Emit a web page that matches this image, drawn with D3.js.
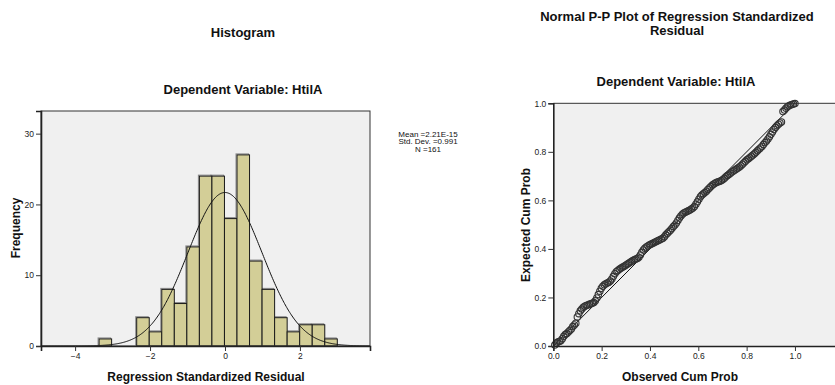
<!DOCTYPE html>
<html>
<head>
<meta charset="utf-8">
<script src="https://cdn.jsdelivr.net/npm/d3@7"></script>
<style>
  body { margin: 0; background: #fff; }
  svg { font-family: "Liberation Sans", Arial, sans-serif; }
  .tick text { font-size: 8.5px; fill: #222; }
  .tick line { stroke: #333; }
  .title { font-size: 13px; font-weight: bold; fill: #111; }
  .axis-title { font-size: 12px; font-weight: bold; fill: #111; }
  .stats { font-size: 8px; fill: #111; }
</style>
</head>
<body>
<div id="chart"></div>
<script>
// histogram data
const binStart = -3.36;
const binWidth = 0.3346;
const binCounts = [1, 0, 0, 4, 2, 8, 6, 14, 24, 24, 18, 27, 12, 8, 4, 2, 3, 3, 1];
const histTicksX = [-4, -2, 0, 2];
const histTicksY = [0, 10, 20, 30];
const statMean = 2.21e-15;
const statSd = 0.991;
const statN = 161;
const statLines = ["Mean =2.21E-15", "Std. Dev. =0.991", "N =161"];

// P-P plot: expected cum prob for each residual, in rank order
const expectedCum = [
  0.004, 0.012, 0.016, 0.019, 0.022, 0.030, 0.040, 0.047, 0.052, 0.058,
  0.064, 0.070, 0.080, 0.087, 0.094, 0.120, 0.133, 0.145, 0.152, 0.160,
  0.164, 0.167, 0.169, 0.172, 0.174, 0.176, 0.179, 0.186, 0.198, 0.212,
  0.226, 0.238, 0.246, 0.252, 0.256, 0.260, 0.263, 0.268, 0.276, 0.287,
  0.298, 0.306, 0.311, 0.316, 0.320, 0.324, 0.328, 0.332, 0.336, 0.340,
  0.344, 0.348, 0.352, 0.355, 0.358, 0.361, 0.366, 0.375, 0.386, 0.396,
  0.403, 0.408, 0.412, 0.416, 0.419, 0.422, 0.425, 0.429, 0.432, 0.435,
  0.438, 0.441, 0.444, 0.450, 0.458, 0.465, 0.471, 0.477, 0.484, 0.492,
  0.499, 0.507, 0.517, 0.527, 0.536, 0.543, 0.548, 0.551, 0.554, 0.557,
  0.560, 0.564, 0.569, 0.575, 0.584, 0.594, 0.605, 0.615, 0.622, 0.627,
  0.632, 0.638, 0.645, 0.651, 0.657, 0.663, 0.668, 0.672, 0.675, 0.677,
  0.679, 0.682, 0.686, 0.691, 0.697, 0.702, 0.707, 0.712, 0.717, 0.721,
  0.725, 0.729, 0.733, 0.738, 0.743, 0.749, 0.755, 0.761, 0.767, 0.772,
  0.777, 0.782, 0.787, 0.792, 0.798, 0.804, 0.811, 0.816, 0.822, 0.830,
  0.838, 0.845, 0.853, 0.862, 0.872, 0.882, 0.892, 0.900, 0.908, 0.914,
  0.919, 0.923, 0.966, 0.972, 0.980, 0.986, 0.990, 0.993, 0.995, 0.997,
  0.999
];
const ppTicks = [0, 0.2, 0.4, 0.6, 0.8, 1.0];

const W = 835, H = 385;
const svg = d3.select("#chart").append("svg").attr("width", W).attr("height", H);

// ---------- Histogram ----------
const hx = d3.scaleLinear().domain([-4.91, 3.87]).range([41, 370]);
const hy = d3.scaleLinear().domain([0, 33.2]).range([346, 111]);

svg.append("rect")
  .attr("x", hx.range()[0]).attr("y", hy.range()[1])
  .attr("width", hx.range()[1] - hx.range()[0])
  .attr("height", hy.range()[0] - hy.range()[1])
  .attr("fill", "#f0f0f0");

const bins = binCounts.map((c, i) => ({ x0: binStart + i * binWidth, x1: binStart + (i + 1) * binWidth, n: c }))
  .filter(d => d.n > 0);

// grey shadow behind the bars
svg.append("g").selectAll("rect").data(bins).enter().append("rect")
  .attr("x", d => hx(d.x0) - 1)
  .attr("y", d => hy(d.n) - 1)
  .attr("width", d => hx(d.x1) - hx(d.x0))
  .attr("height", d => hy(0) - hy(d.n))
  .attr("fill", "none")
  .attr("stroke", "#8a8a8a")
  .attr("stroke-width", 1);

svg.append("g").selectAll("rect").data(bins).enter().append("rect")
  .attr("x", d => hx(d.x0))
  .attr("y", d => hy(d.n))
  .attr("width", d => hx(d.x1) - hx(d.x0))
  .attr("height", d => hy(0) - hy(d.n))
  .attr("fill", "#d3ce97")
  .attr("stroke", "#1a1a1a")
  .attr("stroke-width", 1);

// fitted normal curve
const curveX = d3.range(hx.domain()[0], hx.domain()[1] + 0.001, 0.02);
const normPdf = x => Math.exp(-0.5 * ((x - statMean) / statSd) ** 2) / (statSd * Math.sqrt(2 * Math.PI));
svg.append("path")
  .datum(curveX)
  .attr("fill", "none")
  .attr("stroke", "#111")
  .attr("stroke-width", 1)
  .attr("d", d3.line().x(d => hx(d)).y(d => hy(statN * binWidth * normPdf(d))));

// frame
svg.append("rect")
  .attr("x", 41).attr("y", 111).attr("width", 329).attr("height", 235)
  .attr("fill", "none").attr("stroke", "#333").attr("stroke-width", 1);

const hAxisY = svg.append("g").attr("transform", "translate(41,0)")
  .call(d3.axisLeft(hy).tickValues(histTicksY).tickSize(5).tickPadding(2));
const hAxisX = svg.append("g").attr("transform", "translate(0,346)")
  .call(d3.axisBottom(hx).tickValues(histTicksX).tickSize(5).tickPadding(2));
[hAxisY, hAxisX].forEach(a => a.select(".domain").attr("stroke", "#222").attr("stroke-width", 1.6));

svg.append("text").attr("class", "title").attr("x", 243).attr("y", 37).attr("text-anchor", "middle").text("Histogram");
svg.append("text").attr("class", "title").attr("x", 243).attr("y", 94).attr("text-anchor", "middle").text("Dependent Variable: HtilA");
svg.append("text").attr("class", "axis-title").attr("x", 206).attr("y", 381).attr("text-anchor", "middle").text("Regression Standardized Residual");
svg.append("text").attr("class", "axis-title").attr("text-anchor", "middle")
  .attr("transform", "translate(20,228) rotate(-90)").text("Frequency");

svg.append("g").selectAll("text").data(statLines).enter().append("text")
  .attr("class", "stats")
  .attr("x", 428).attr("y", (d, i) => 136.5 + i * 7.5)
  .attr("text-anchor", "middle")
  .text(d => d);

// ---------- P-P plot ----------
const px = d3.scaleLinear().domain([0, 1.2]).range([553.3, 843.3]);
const py = d3.scaleLinear().domain([0, 1]).range([346, 103.3]);

svg.append("rect")
  .attr("x", 553.3).attr("y", 103.3).attr("width", W - 553.3).attr("height", 346 - 103.3)
  .attr("fill", "#f0f0f0");
svg.append("line")
  .attr("x1", 553.3).attr("x2", W).attr("y1", 103.3).attr("y2", 103.3)
  .attr("stroke", "#333");

svg.append("line")
  .attr("x1", px(0)).attr("y1", py(0)).attr("x2", px(1)).attr("y2", py(1))
  .attr("stroke", "#111").attr("stroke-width", 1);

svg.append("g").selectAll("circle").data(expectedCum).enter().append("circle")
  .attr("cx", (d, i) => px((i + 1) / statN))
  .attr("cy", d => py(d))
  .attr("r", 3.2)
  .attr("fill", "none")
  .attr("stroke", "#333")
  .attr("stroke-width", 1.1);

const pAxisY = svg.append("g").attr("transform", "translate(553.3,0)")
  .call(d3.axisLeft(py).tickValues(ppTicks).tickFormat(d3.format(".1f")).tickSize(5).tickPadding(2));
const pAxisX = svg.append("g").attr("transform", "translate(0,346)")
  .call(d3.axisBottom(px).tickValues(ppTicks).tickFormat(d3.format(".1f")).tickSize(5).tickPadding(2));
[pAxisY, pAxisX].forEach(a => a.select(".domain").attr("stroke", "#222").attr("stroke-width", 1.6));

svg.append("text").attr("class", "title").attr("x", 677).attr("y", 21).attr("text-anchor", "middle")
  .text("Normal P-P Plot of Regression Standardized");
svg.append("text").attr("class", "title").attr("x", 677).attr("y", 35).attr("text-anchor", "middle")
  .text("Residual");
svg.append("text").attr("class", "title").attr("x", 676).attr("y", 86).attr("text-anchor", "middle").text("Dependent Variable: HtilA");
svg.append("text").attr("class", "axis-title").attr("x", 680).attr("y", 381).attr("text-anchor", "middle").text("Observed Cum Prob");
svg.append("text").attr("class", "axis-title").attr("text-anchor", "middle")
  .attr("transform", "translate(530,225) rotate(-90)").text("Expected Cum Prob");
</script>
</body>
</html>
